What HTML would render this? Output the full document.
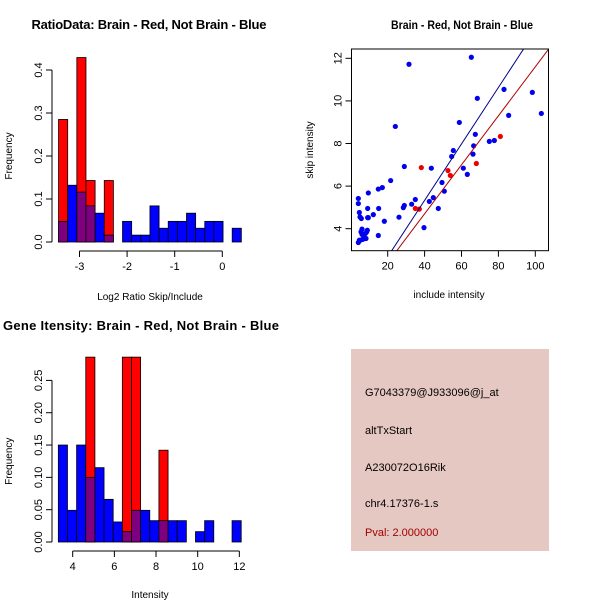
<!DOCTYPE html>
<html><head><meta charset="utf-8"><style>
html,body{margin:0;padding:0;background:#fff;}
svg{display:block;font-family:"Liberation Sans",Arial,sans-serif;}
</style></head><body>
<svg id="chart" width="600" height="600" viewBox="0 0 600 600" xmlns="http://www.w3.org/2000/svg">
<rect x="0" y="0" width="600" height="600" fill="#fff"/>
<text x="149" y="29" text-anchor="middle" font-size="13" font-weight="bold" textLength="235">RatioData: Brain - Red, Not Brain - Blue</text>
<text x="462" y="29" text-anchor="middle" font-size="12" font-weight="bold" textLength="142" lengthAdjust="spacingAndGlyphs">Brain - Red, Not Brain - Blue</text>
<text x="141" y="330" text-anchor="middle" font-size="13" font-weight="bold" textLength="276">Gene Itensity: Brain - Red, Not Brain - Blue</text>
<g id="p1"></g>
<g id="p2"></g>
<g id="p3"></g>
<g>
<rect x="351" y="349" width="198" height="202" fill="#e6c8c2"/>
<text x="365" y="396" font-size="11">G7043379@J933096@j_at</text>
<text x="365" y="434" font-size="11">altTxStart</text>
<text x="365" y="471" font-size="11">A230072O16Rik</text>
<text x="365" y="507" font-size="11">chr4.17376-1.s</text>
<text x="365" y="536" font-size="11" fill="#a00000">Pval: 2.000000</text>
</g>
</svg>
<script>
// ---- Ratio histogram data ----
const ratioBinStart = -3.44;
const ratioBinWidth = 0.192;
const ratioBlue = [0.048,0.132,0.116,0.084,0.067,0.016,0,0.048,0.016,0.016,0.084,0.032,0.048,0.048,0.067,0.032,0.048,0.048,0,0.032];
const ratioRed  = [0.285,0,0.429,0.143,0,0.143,0,0,0,0,0,0,0,0,0,0,0,0,0,0];
const ratioXTicks = [-3,-2,-1,0];
const ratioYTicks = [0,0.1,0.2,0.3,0.4];
// ---- Intensity histogram data ----
const intBinStart = 3.31;
const intBinWidth = 0.439;
const intBlue = [0.150,0.049,0.150,0.100,0.115,0.066,0.031,0.016,0.049,0.049,0.033,0.033,0.033,0.033,0,0.016,0.033,0,0,0.033];
const intRed  = [0,0,0,0.286,0,0,0,0.286,0.286,0,0,0.142,0,0,0,0,0,0,0,0];
const intXTicks = [4,6,8,10,12];
const intYTicks = [0,0.05,0.10,0.15,0.20,0.25];
// ---- Scatter data ----
const blueX = [4.08,4.08,4.63,4.99,5.71,6.07,5.53,6.07,6.79,5.17,4.08,4.63,6.43,7.15,7.88,8.60,8.96,7.33,8.24,9.14,9.50,9.14,9.50,12.21,15.10,14.92,17.09,18.18,14.92,21.61,24.14,26.12,28.47,29.01,29.01,31.54,32.98,34.97,39.67,42.56,43.64,44.72,47.43,49.43,50.69,54.66,55.57,58.82,60.99,63.16,65.33,66.23,66.59,67.49,68.58,75.08,77.80,83.03,85.56,98.39,103.27];
const blueY = [5.42,5.18,4.76,4.55,4.48,3.98,3.85,3.74,3.69,3.46,3.35,3.46,3.50,3.61,3.77,3.85,3.93,3.54,3.54,4.95,5.68,4.52,4.52,4.66,4.95,5.86,5.93,4.35,3.68,6.26,8.80,4.54,4.99,5.09,6.92,11.72,5.15,5.37,4.05,5.28,6.84,5.46,4.95,6.17,5.76,7.39,7.67,8.99,6.84,6.55,12.05,7.50,7.89,8.43,10.12,8.10,8.14,10.54,9.32,10.40,9.41];
const redX = [34.97,37.14,38.22,52.67,53.94,68.04,81.05];
const redY = [4.95,4.92,6.87,6.73,6.50,7.06,8.33];
const blueFit = [0.03,0.1325];   // intercept, slope
const redFit  = [0.10,0.115];
const scatterXTicks = [20,40,60,80,100];
const scatterYTicks = [4,6,8,10,12];

const NS='http://www.w3.org/2000/svg';
function mk(parent,tag,attrs,text){const e=document.createElementNS(NS,tag);for(const k in attrs)e.setAttribute(k,attrs[k]);if(text!==undefined)e.textContent=text;parent.appendChild(e);return e;}

function hist(g,start,width,blue,red,xTicks,yTicks,xs,ys,axisY,xlab,xlabY,fmt){
  blue.forEach((b,i)=>{
    const r=red[i];const x0=xs(start+i*width),x1=xs(start+(i+1)*width);
    const hi=Math.max(b,r),lo=Math.min(b,r);
    if(hi<=0)return;
    const topCol=r>=b?'#ff0000':'#0000ff';
    const bar=mk(g,'rect',{x:x0,y:ys(hi),width:x1-x0,height:ys(0)-ys(hi),fill:topCol,stroke:'#000','stroke-width':0.8});
    
    
    if(lo>0){
      const ov=mk(g,'rect',{x:x0,y:ys(lo),width:x1-x0,height:ys(0)-ys(lo),fill:'#7f007f',stroke:'#000','stroke-width':0.8});
      
      
    }
  });
  const ax=xs(xTicks[0]),bx=xs(xTicks[xTicks.length-1]);
  mk(g,'line',{x1:ax,x2:bx,y1:axisY,y2:axisY,stroke:'#000'});
  xTicks.forEach(t=>{mk(g,'line',{x1:xs(t),x2:xs(t),y1:axisY,y2:axisY+6,stroke:'#000'});
    const tl=mk(g,'text',{x:xs(t),y:axisY+19,'text-anchor':'middle','font-size':11},String(t));
    
    });
  const yx=52;
  mk(g,'line',{x1:yx,x2:yx,y1:ys(yTicks[0]),y2:ys(yTicks[yTicks.length-1]),stroke:'#000'});
  yTicks.forEach(t=>{mk(g,'line',{x1:yx,x2:yx-6,y1:ys(t),y2:ys(t),stroke:'#000'});
    const tl=mk(g,'text',{x:0,y:0,'text-anchor':'middle','font-size':11,transform:`translate(${yx-10},${ys(t)}) rotate(-90)`},fmt(t));
    
    });
  const yl=mk(g,'text',{x:0,y:0,'text-anchor':'middle','font-size':10,transform:`translate(12,${(ys(0)+ys(yTicks[yTicks.length-1]))/2}) rotate(-90)`},'Frequency');
  
  
  const xl=mk(g,'text',{x:150,y:xlabY,'text-anchor':'middle','font-size':10},xlab);
  
  
}

// Panel 1
hist(document.getElementById('p1'),ratioBinStart,ratioBinWidth,ratioBlue,ratioRed,ratioXTicks,ratioYTicks,
  v=>79.5+(v+3)*47.6, v=>242-v*430, 251,'Log2 Ratio Skip/Include',300, t=>t.toFixed(1));
// Panel 3
hist(document.getElementById('p3'),intBinStart,intBinWidth,intBlue,intRed,intXTicks,intYTicks,
  v=>72.7+(v-4)*20.83, v=>542-v*646.4, 551,'Intensity',598, t=>t.toFixed(2));

// Panel 2 scatter
(function(){
  const g=document.getElementById('p2');
  const xs=v=>350.8+v*1.845, ys=v=>58.3+(12-v)*21.3;
  const L=351.5,R=548.5,T=49,B=250.7;
  const cp=mk(g,'clipPath',{id:'clipS'});mk(cp,'rect',{x:L,y:T,width:R-L,height:B-T});
  const inner=mk(g,'g',{'clip-path':'url(#clipS)'});
  blueX.forEach((x,i)=>{const c=mk(inner,'circle',{cx:xs(x),cy:ys(blueY[i]),r:2.6,fill:'#0000ee'});
    
    });
  redX.forEach((x,i)=>{const c=mk(inner,'circle',{cx:xs(x),cy:ys(redY[i]),r:2.6,fill:'#ee0000'});
    
    });
  [[blueFit,'#00008b','blue-fit-line'],[redFit,'#b00000','red-fit-line']].forEach(([f,col,n])=>{
    const l=mk(inner,'line',{x1:xs(0),y1:ys(f[0]),x2:xs(120),y2:ys(f[0]+f[1]*120),stroke:col,'stroke-width':1});
    
    });
  mk(g,'rect',{x:L,y:T,width:R-L,height:B-T,fill:'none',stroke:'#000'});
  scatterXTicks.forEach(t=>{mk(g,'line',{x1:xs(t),x2:xs(t),y1:B,y2:B+6,stroke:'#000'});
    const tl=mk(g,'text',{x:xs(t),y:B+19,'text-anchor':'middle','font-size':11},String(t));
    
    });
  scatterYTicks.forEach(t=>{mk(g,'line',{x1:L,x2:L-6,y1:ys(t),y2:ys(t),stroke:'#000'});
    const tl=mk(g,'text',{x:0,y:0,'text-anchor':'middle','font-size':11,transform:`translate(${L-10},${ys(t)}) rotate(-90)`},String(t));
    
    });
  const xl=mk(g,'text',{x:449,y:298,'text-anchor':'middle','font-size':10},'include intensity');
  
  
  const yl=mk(g,'text',{x:0,y:0,'text-anchor':'middle','font-size':10,transform:'translate(313,150) rotate(-90)'},'skip intensity');
  
  
})();
</script>
</body></html>
